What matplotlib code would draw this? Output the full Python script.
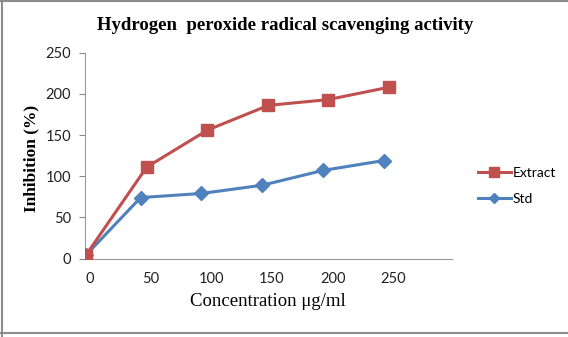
import matplotlib
matplotlib.use("Agg")
import matplotlib.pyplot as plt
from matplotlib.lines import Line2D

# Data
extract_x = [-3, 47, 97, 147, 196, 246]
extract_y = [4, 111, 156, 186, 193, 208]
std_x = [-3, 42, 92, 142, 192, 242]
std_y = [4, 74, 79, 89, 107, 119]
xticks = [0, 50, 100, 150, 200, 250]
yticks = [0, 50, 100, 150, 200, 250]

RED = "#C0504D"
BLUE = "#4F81BD"
SANS = ["Lato", "DejaVu Sans"]
SERIF = ["Liberation Serif", "DejaVu Serif"]

fig = plt.figure(figsize=(5.68, 3.37), dpi=100)
ax = fig.add_axes([85/568, (337-258.5)/337, (452-85)/568, (258.5-52.7)/337])

ax.plot(std_x, std_y, color=BLUE, lw=2.2, marker="D", ms=7.5,
        markeredgecolor=BLUE, markerfacecolor=BLUE, label="Std", zorder=3)
ax.plot(extract_x, extract_y, color=RED, lw=2.2, marker="s", ms=8.5,
        markeredgecolor=RED, markerfacecolor=RED, label="Extract", zorder=4)

ax.set_xlim(-3.7, 298)
ax.set_ylim(0, 250)
ax.set_xticks(xticks)
ax.set_yticks(yticks)
ax.set_xticklabels([str(v) for v in xticks], fontfamily=SANS, fontsize=10.5)
ax.set_yticklabels([str(v) for v in yticks], fontfamily=SANS, fontsize=10.5)
ax.tick_params(axis="x", length=0, pad=10, colors="#222222")
ax.tick_params(axis="y", length=4, width=0.8, color="#888888", pad=6, labelcolor="#222222")
for s in ["top", "right"]:
    ax.spines[s].set_visible(False)
for s in ["left", "bottom"]:
    ax.spines[s].set_color("#999999")
    ax.spines[s].set_linewidth(0.8)

fig.text(285/568, 1 - 25/337, "Hydrogen  peroxide radical scavenging activity",
         ha="center", va="center", fontfamily=SERIF, fontweight="bold", fontsize=13.5)
fig.text(31/568, 1 - 158/337, "Inhibition (%)", rotation=90, ha="center", va="center",
         fontfamily=SERIF, fontweight="bold", fontsize=12.5)
fig.text(268/568, 1 - 301/337, "Concentration μg/ml", ha="center", va="center",
         fontfamily=SERIF, fontsize=13.5)

# Legend
handles = [Line2D([], [], color=RED, lw=2.2, marker="s", ms=6.5),
           Line2D([], [], color=BLUE, lw=2.2, marker="D", ms=5.5)]
leg = fig.legend(handles, ["Extract", "Std"], loc="upper left",
                 bbox_to_anchor=(472/568, 1 - 161/337), frameon=False,
                 prop={"family": SANS, "size": 10}, handlelength=2.4,
                 handletextpad=0.1, labelspacing=1.05, borderaxespad=0)

# Figure border (top, left, bottom)
bc = "#8c8c8c"
fig.add_artist(Line2D([0, 1], [1 - 1/337, 1 - 1/337], transform=fig.transFigure, color=bc, lw=1.5))
fig.add_artist(Line2D([1.5/568, 1.5/568], [0, 1], transform=fig.transFigure, color=bc, lw=1.5))
fig.add_artist(Line2D([0, 1], [1 - 333/337, 1 - 333/337], transform=fig.transFigure, color=bc, lw=1.5))

fig.savefig("out.png", dpi=100)
